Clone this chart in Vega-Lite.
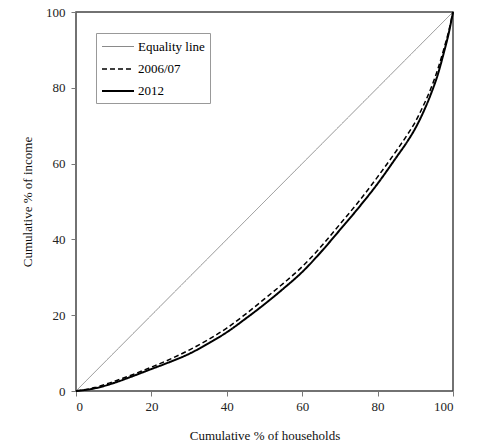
{
  "$schema": "https://vega.github.io/schema/vega-lite/v6.json",
  "autosize": {"type": "none"},
  "padding": {"left": 76, "top": 12, "right": 25, "bottom": 57},
  "width": 377,
  "height": 379,
  "background": "white",
  "config": {
    "view": {"stroke": "#444", "strokeWidth": 1.5},
    "font": "Liberation Serif",
    "legend": {
      "orient": "none", "legendX": 20, "legendY": 21,
      "fillColor": "white", "strokeColor": "#999", "padding": 5,
      "symbolType": "M-1,0H3", "symbolSize": 256,
      "rowPadding": 6,
      "labelFont": "Liberation Serif", "labelFontSize": 13, "labelColor": "#000",
      "labelOffset": 19
    }
  },
  "data": {
    "values": [
      {"series": "Equality line", "x": 0, "y": 0},
      {"series": "Equality line", "x": 100, "y": 100},
      {"series": "2006/07", "x": 0, "y": 0},
      {"series": "2006/07", "x": 5, "y": 0.9},
      {"series": "2006/07", "x": 10, "y": 2.5},
      {"series": "2006/07", "x": 15, "y": 4.3},
      {"series": "2006/07", "x": 20, "y": 6.3},
      {"series": "2006/07", "x": 25, "y": 8.4},
      {"series": "2006/07", "x": 30, "y": 10.8},
      {"series": "2006/07", "x": 35, "y": 13.5},
      {"series": "2006/07", "x": 40, "y": 16.6},
      {"series": "2006/07", "x": 45, "y": 20.3},
      {"series": "2006/07", "x": 50, "y": 24.3},
      {"series": "2006/07", "x": 55, "y": 28.4},
      {"series": "2006/07", "x": 60, "y": 32.8},
      {"series": "2006/07", "x": 65, "y": 38.1},
      {"series": "2006/07", "x": 70, "y": 44.0},
      {"series": "2006/07", "x": 75, "y": 50.0},
      {"series": "2006/07", "x": 80, "y": 56.5},
      {"series": "2006/07", "x": 85, "y": 63.4},
      {"series": "2006/07", "x": 88, "y": 67.8},
      {"series": "2006/07", "x": 90, "y": 71.0},
      {"series": "2006/07", "x": 92, "y": 75.0},
      {"series": "2006/07", "x": 94, "y": 79.5},
      {"series": "2006/07", "x": 96, "y": 85.0},
      {"series": "2006/07", "x": 97.5, "y": 90.0},
      {"series": "2006/07", "x": 99, "y": 95.5},
      {"series": "2006/07", "x": 100, "y": 100},
      {"series": "2012", "x": 0, "y": 0},
      {"series": "2012", "x": 5, "y": 0.7},
      {"series": "2012", "x": 10, "y": 2.1},
      {"series": "2012", "x": 15, "y": 3.9},
      {"series": "2012", "x": 20, "y": 5.8},
      {"series": "2012", "x": 25, "y": 7.7},
      {"series": "2012", "x": 30, "y": 9.8},
      {"series": "2012", "x": 35, "y": 12.5},
      {"series": "2012", "x": 40, "y": 15.5},
      {"series": "2012", "x": 45, "y": 19.1},
      {"series": "2012", "x": 50, "y": 22.9},
      {"series": "2012", "x": 55, "y": 27.0},
      {"series": "2012", "x": 60, "y": 31.4},
      {"series": "2012", "x": 65, "y": 36.7},
      {"series": "2012", "x": 70, "y": 42.5},
      {"series": "2012", "x": 75, "y": 48.4},
      {"series": "2012", "x": 80, "y": 54.7},
      {"series": "2012", "x": 85, "y": 61.7},
      {"series": "2012", "x": 88, "y": 66.0},
      {"series": "2012", "x": 90, "y": 69.3},
      {"series": "2012", "x": 92, "y": 73.3},
      {"series": "2012", "x": 94, "y": 78.0},
      {"series": "2012", "x": 96, "y": 83.6},
      {"series": "2012", "x": 97.5, "y": 89.0},
      {"series": "2012", "x": 99, "y": 95.0},
      {"series": "2012", "x": 100, "y": 100}
    ]
  },
  "mark": {"type": "line", "strokeCap": "butt", "interpolate": "monotone"},
  "encoding": {
    "x": {
      "field": "x", "type": "quantitative",
      "scale": {"domain": [0, 100], "nice": false},
      "axis": {
        "title": "Cumulative % of households",
        "values": [0, 20, 40, 60, 80, 100],
        "grid": false, "domain": false,
        "tickColor": "#777", "tickSize": 5,
        "labelFont": "Liberation Serif", "labelFontSize": 13, "labelColor": "#222",
        "labelPadding": 4,
        "titleFont": "Liberation Serif", "titleFontSize": 13, "titleFontWeight": "normal",
        "titleColor": "#111", "titlePadding": 16
      }
    },
    "y": {
      "field": "y", "type": "quantitative",
      "scale": {"domain": [0, 100], "nice": false},
      "axis": {
        "title": "Cumulative % of income",
        "values": [0, 20, 40, 60, 80, 100],
        "grid": false, "domain": false,
        "tickColor": "#777", "tickSize": 5,
        "labelFont": "Liberation Serif", "labelFontSize": 13, "labelColor": "#222",
        "labelPadding": 6,
        "titleFont": "Liberation Serif", "titleFontSize": 13, "titleFontWeight": "normal",
        "titleColor": "#111", "titlePadding": 11
      }
    },
    "color": {
      "field": "series", "type": "nominal",
      "scale": {"domain": ["Equality line", "2006/07", "2012"], "range": ["#8a8a8a", "#000000", "#000000"]},
      "legend": {"title": null}
    },
    "strokeDash": {
      "field": "series", "type": "nominal",
      "scale": {"domain": ["Equality line", "2006/07", "2012"], "range": [[1, 0], [5, 3], [1, 0]]},
      "legend": {"title": null}
    },
    "strokeWidth": {
      "field": "series", "type": "nominal",
      "scale": {"domain": ["Equality line", "2006/07", "2012"], "range": [1, 2, 2.5]},
      "legend": {"title": null}
    }
  }
}
